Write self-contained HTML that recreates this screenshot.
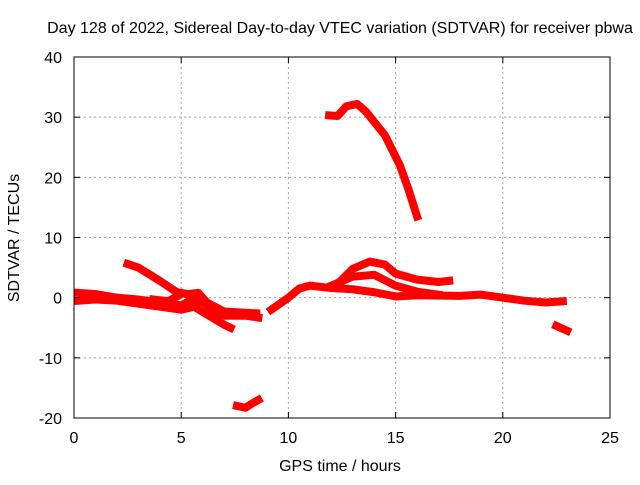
<!DOCTYPE html>
<html><head><meta charset="utf-8"><style>
body{margin:0;background:#fff;font-family:"Liberation Sans",sans-serif;}
svg text{font-family:"Liberation Sans",sans-serif;font-size:16px;fill:#000;}
</style></head><body>
<svg id="chart" width="640" height="480">
<text x="340" y="33" text-anchor="middle">Day 128 of 2022, Sidereal Day-to-day VTEC variation (SDTVAR) for receiver pbwa</text>
<text x="340" y="471" text-anchor="middle">GPS time / hours</text>
<text transform="translate(19,238) rotate(-90)" text-anchor="middle">SDTVAR / TECUs</text>
<g id="grid"></g><g id="series"></g>
<rect x="74" y="57" width="536" height="361" fill="none" stroke="#000" stroke-width="1"/>
<g id="ticks"></g>
</svg>
<script>
const xTicks=[0,5,10,15,20,25];
const yTicks=[-20,-10,0,10,20,30,40];
const trackA=[[0.2,0.8],[1,0.6],[2,0],[3,-0.3],[4,-0.8],[5,-1.3],[5.5,-0.3],[6,-0.8],[6.5,-2],[7,-3],[8,-3],[8.6,-3.3]];
const trackA2=[[0.2,-0.5],[1,-0.3],[2,-0.5],[3,-1],[4,-1.5],[5,-2],[5.6,-1.5],[6.2,-2.8],[7,-4.5],[7.3,-5]];
const trackB=[[2.5,5.6],[3,5],[4,2.8],[4.8,0.9],[5.3,0.6],[5.8,0.8],[6.2,-0.8],[7,-2.3],[8,-2.5],[8.5,-2.6]];
const trackC=[[3.7,-0.3],[4.4,-0.6],[5,0.6]];
const trackD=[[9.2,-2],[10,0],[10.5,1.5],[11,2],[12,1.6],[13,1.4],[14,0.9],[15,0.2],[16,0.4],[18,0.3],[19,0.5],[20,0],[21,-0.5],[22,-0.8],[22.8,-0.6]];
const trackE=[[12.5,3],[13,4.8],[13.8,6],[14.5,5.5],[15,4],[16,3],[17,2.6],[17.5,2.8]];
const trackF=[[12,2],[13,3.5],[14,3.8],[15,2],[16,1],[17,0.5]];
const trackG=[[22.5,-4.7],[23,-5.5]];
const trackH=[[11.9,30.3],[12.3,30.2],[12.7,31.8],[13.2,32.2],[13.6,31],[14.5,27],[15.2,22],[15.6,18],[16,13.5]];
const trackI=[[7.6,-18],[8,-18.3],[8.3,-17.6],[8.6,-17]];
const tracks=[trackA,trackA2,trackB,trackC,trackD,trackE,trackF,trackG,trackH,trackI];
const NS="http://www.w3.org/2000/svg";
const xs=h=>74+h*536/25, ys=v=>418-(v+20)*361/60;
const grid=document.getElementById('grid'),ticks=document.getElementById('ticks'),ser=document.getElementById('series');
function mk(tag,attrs,parent){const e=document.createElementNS(NS,tag);for(const k in attrs)e.setAttribute(k,attrs[k]);parent.appendChild(e);return e;}
xTicks.forEach(t=>{const x=xs(t);
 if(t>0&&t<25){const g=mk('line',{x1:x,x2:x,y1:57,y2:418,stroke:'#a0a0a0','stroke-dasharray':'2,3'},grid);
 
 }
 mk('line',{x1:x,x2:x,y1:418,y2:412,stroke:'#000'},ticks);mk('line',{x1:x,x2:x,y1:57,y2:63,stroke:'#000'},ticks);
 const l=mk('text',{x:x,y:443,'text-anchor':'middle'},ticks);l.textContent=t;
 
 });
yTicks.forEach(t=>{const y=ys(t);
 if(t>-20&&t<40){const g=mk('line',{x1:74,x2:610,y1:y,y2:y,stroke:'#a0a0a0','stroke-dasharray':'2,3'},grid);
 
 }
 mk('line',{x1:74,x2:80,y1:y,y2:y,stroke:'#000'},ticks);mk('line',{x1:604,x2:610,y1:y,y2:y,stroke:'#000'},ticks);
 const l=mk('text',{x:62,y:y+6,'text-anchor':'end'},ticks);l.textContent=t;
 
 });
tracks.forEach((tr,i)=>{const p=mk('polyline',{points:tr.map(d=>xs(d[0])+','+ys(d[1])).join(' '),fill:'none',stroke:'#f00','stroke-width':8,'stroke-linejoin':'round','stroke-linecap':'square'},ser);
 
 });
</script>
</body></html>
